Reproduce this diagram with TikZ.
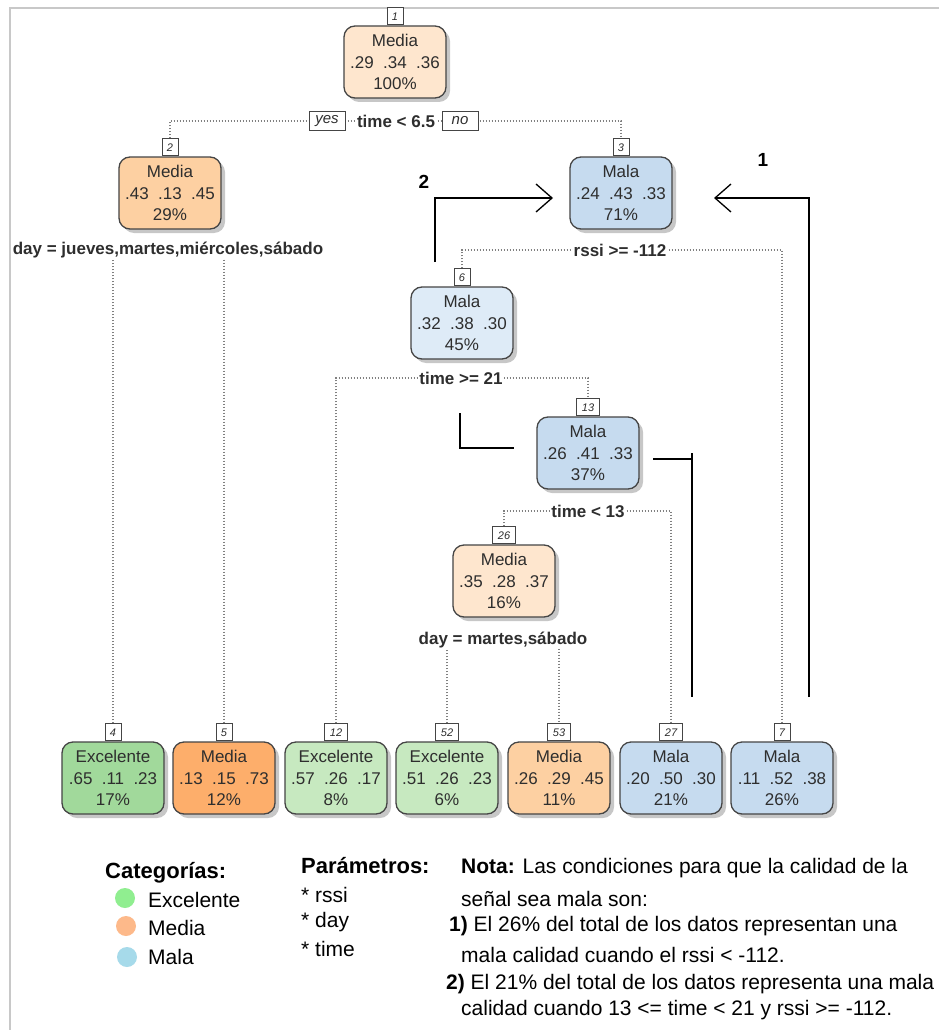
\documentclass[tikz,border=0pt]{standalone}
\usepackage{fontspec}
\setmainfont{Liberation Sans}
\usetikzlibrary{arrows.meta,shadows,backgrounds}
\definecolor{txt}{HTML}{2E2E2E}
\definecolor{bord}{HTML}{454545}
\definecolor{cMedA}{HTML}{FEE6CE}
\definecolor{cMedB}{HTML}{FDD0A2}
\definecolor{cMedC}{HTML}{FDAE6B}
\definecolor{cMalA}{HTML}{C6DBEF}
\definecolor{cMalB}{HTML}{DEEBF7}
\definecolor{cExcA}{HTML}{A1D99B}
\definecolor{cExcB}{HTML}{C7E9C0}
\definecolor{lgGreen}{HTML}{90EE90}
\definecolor{lgOrange}{HTML}{FDB98A}
\definecolor{lgBlue}{HTML}{A6DAEA}
\definecolor{frame}{HTML}{C8C8C8}
\newcommand{\sep}{\hspace{0.55em}}
\begin{document}
\begin{tikzpicture}[x=1pt,y=-1pt,
  treebox/.style={draw=bord, line width=1.3pt, rounded corners=11pt,
    minimum width=102pt, minimum height=72pt, inner sep=0pt, align=center,
    text=txt, font=\fontsize{17}{21.5}\selectfont,
    drop shadow={shadow xshift=4pt, shadow yshift=-4pt, fill=black, opacity=.22}},
  numlab/.style={draw=bord, fill=white, line width=0.9pt, minimum width=16pt,
    minimum height=17pt, inner sep=0.5pt, anchor=south, text=txt,
    font=\fontsize{11}{11}\selectfont\itshape},
  splitlab/.style={fill=white, inner sep=1pt, text=txt,
    font=\bfseries\fontsize{17}{17}\selectfont},
  yn/.style={draw=bord, fill=white, line width=0.9pt, minimum width=36pt,
    minimum height=19pt, inner sep=1pt, text=txt,
    font=\itshape\fontsize{15}{15}\selectfont},
  dotline/.style={draw=gray, line width=1.2pt, dash pattern=on 1.2pt off 1.8pt},
  ann/.style={line width=1.8pt, draw=black},
  tip/.style={-{Straight Barb[length=16pt,width=28pt,line width=1.3pt]}},
  anno/.style={font=\bfseries\fontsize{19}{19}\selectfont, text=black},
  legtxt/.style={anchor=west, inner sep=0pt, text=black, font=\fontsize{21}{21}\selectfont},
  leghead/.style={anchor=west, inner sep=0pt, text=black, font=\bfseries\fontsize{22}{22}\selectfont},
  dot/.style={circle, minimum size=20pt, inner sep=0pt}
]
\useasboundingbox (0,0) rectangle (939,1030);
\clip (0,0) rectangle (939,1030);
\begin{scope}[on background layer]
\fill[white] (0,0) rectangle (939,1030);
\end{scope}
\draw[frame, line width=1.5pt] (10,1030) -- (10,8) -- (939,8);

% ---------- tree nodes ----------
\node[treebox, fill=cMedA] (n1) at (395,62) {Media\\.29\sep.34\sep.36\\100\%};
\node[numlab] (l1) at (n1.north) {1};
\node[treebox, fill=cMedB] (n2) at (170,193) {Media\\.43\sep.13\sep.45\\29\%};
\node[numlab] (l2) at (n2.north) {2};
\node[treebox, fill=cMalA] (n3) at (621,193) {Mala\\.24\sep.43\sep.33\\71\%};
\node[numlab] (l3) at (n3.north) {3};
\node[treebox, fill=cMalB] (n6) at (462,323) {Mala\\.32\sep.38\sep.30\\45\%};
\node[numlab] (l6) at (n6.north) {6};
\node[treebox, fill=cMalA] (n13) at (588,453) {Mala\\.26\sep.41\sep.33\\37\%};
\node[numlab, minimum width=23pt] (l13) at (n13.north) {13};
\node[treebox, fill=cMedA] (n26) at (504,581) {Media\\.35\sep.28\sep.37\\16\%};
\node[numlab, minimum width=23pt] (l26) at (n26.north) {26};

\node[treebox, fill=cExcA] (n4) at (113,778) {Excelente\\.65\sep.11\sep.23\\17\%};
\node[numlab] (l4) at (n4.north) {4};
\node[treebox, fill=cMedC] (n5) at (224,778) {Media\\.13\sep.15\sep.73\\12\%};
\node[numlab] (l5) at (n5.north) {5};
\node[treebox, fill=cExcB] (n12) at (336,778) {Excelente\\.57\sep.26\sep.17\\8\%};
\node[numlab, minimum width=23pt] (l12) at (n12.north) {12};
\node[treebox, fill=cExcB] (n52) at (447,778) {Excelente\\.51\sep.26\sep.23\\6\%};
\node[numlab, minimum width=23pt] (l52) at (n52.north) {52};
\node[treebox, fill=cMedB] (n53) at (559,778) {Media\\.26\sep.29\sep.45\\11\%};
\node[numlab, minimum width=23pt] (l53) at (n53.north) {53};
\node[treebox, fill=cMalA] (n27) at (671,778) {Mala\\.20\sep.50\sep.30\\21\%};
\node[numlab, minimum width=23pt] (l27) at (n27.north) {27};
\node[treebox, fill=cMalA] (n7) at (782,778) {Mala\\.11\sep.52\sep.38\\26\%};
\node[numlab] (l7) at (n7.north) {7};

% ---------- split labels ----------
\node[splitlab] (s1) at (396,121) {time < 6.5};
\node[yn] (yes) at (327,121) {yes};
\node[yn] (no) at (460,121) {no};
\node[splitlab] (s2) at (168,250) {day = jueves,martes,miércoles,sábado};
\node[splitlab] (s3) at (620,250) {rssi >= -112};
\node[splitlab] (s6) at (461,378) {time >= 21};
\node[splitlab] (s13) at (588,511) {time < 13};
\node[splitlab] (s26) at (503,640) {day = martes,sábado};

% ---------- dotted branches ----------
\begin{scope}[on background layer]
\draw[dotline] (l2.north) |- (s1.center) -| (l3.north);
\draw[dotline] (l4.north) |- (s2.center) -| (l5.north);
\draw[dotline] (l6.north) |- (s3.center) -| (l7.north);
\draw[dotline] (l12.north) |- (s6.center) -| (l13.north);
\draw[dotline] (l26.north) |- (s13.center) -| (l27.north);
\draw[dotline] (l52.north) |- (s26.center) -| (l53.north);
\end{scope}

% ---------- annotation lines ----------
\coordinate (a1s) at (809,697);
\coordinate (a1e) at (714,198);
\draw[ann, tip] (a1s) |- (a1e);
\coordinate (a2s) at (435,262);
\coordinate (a2e) at (553,198);
\draw[ann, tip] (a2s) |- (a2e);
\coordinate (b1) at (460,413);
\coordinate (b2) at (514,448);
\draw[ann] (b1) |- (b2);
\coordinate (c1) at (653,459);
\coordinate (c2) at (692,459);
\coordinate (c3) at (692,453);
\coordinate (c4) at (692,697);
\draw[ann] (c1) -- (c2);
\draw[ann] (c3) -- (c4);
\node[anno] (t1) at (763,160) {1};
\node[anno] (t2) at (424,182) {2};

% ---------- legend ----------
\node[leghead] (cat) at (105,873) {Categorías:};
\node[dot, fill=lgGreen] (d1) at (125,898) {};
\node[dot, fill=lgOrange] (d2) at (126,926) {};
\node[dot, fill=lgBlue] (d3) at (127,957) {};
\node[legtxt] (e1) at (148,900) {Excelente};
\node[legtxt] (e2) at (148,928) {Media};
\node[legtxt] (e3) at (148,957) {Mala};

\node[leghead] (par) at (301,866) {Parámetros:};
\node[legtxt] (p1) at (301,895) {* rssi};
\node[legtxt] (p2) at (301,922) {* day};
\node[legtxt] (p3) at (301,949) {* time};

\node[legtxt] (m1) at (461,868) {\textbf{Nota:} Las condiciones para que la calidad de la};
\node[legtxt] (m2) at (461,899) {señal sea mala son:};
\node[legtxt] (m3) at (449,926) {\textbf{1)} El 26\% del total de los datos representan una};
\node[legtxt] (m4) at (461,955) {mala calidad cuando el rssi < -112.};
\node[legtxt] (m5) at (446,984) {\textbf{2)} El 21\% del total de los datos representa una mala};
\node[legtxt] (m6) at (461,1010) {calidad cuando 13 <= time < 21 y rssi >= -112.};
\end{tikzpicture}
\end{document}
